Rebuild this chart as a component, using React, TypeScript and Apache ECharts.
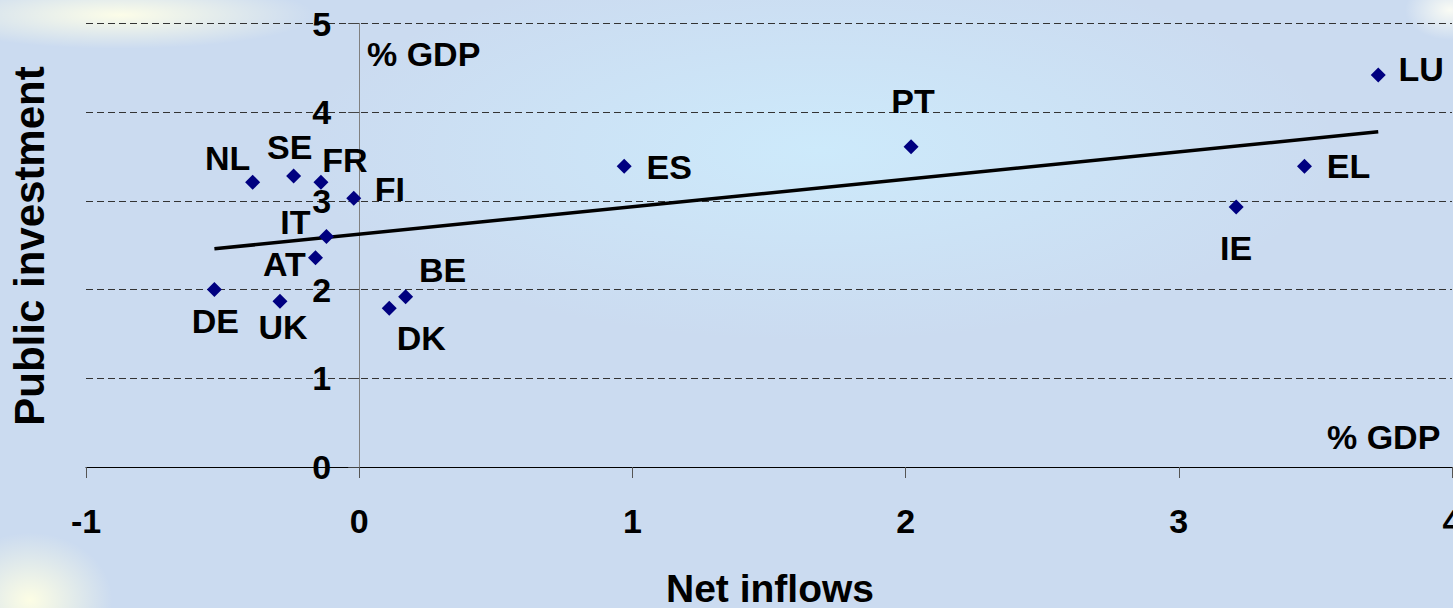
import React, { useEffect, useRef } from "react";
import * as echarts from "echarts";

const countries = ["LU", "EL", "IE", "PT", "ES", "FI", "FR", "SE", "NL", "IT", "AT", "DE", "UK", "BE", "DK"];
const netInflows = [3.73, 3.46, 3.21, 2.02, 0.97, -0.02, -0.14, -0.24, -0.39, -0.12, -0.16, -0.53, -0.29, 0.17, 0.11];
const publicInvestment = [4.42, 3.39, 2.93, 3.61, 3.39, 3.03, 3.21, 3.28, 3.21, 2.6, 2.36, 2.0, 1.87, 1.92, 1.79];
const labelOffsets: [number, number][] = [
  [43, -6], [44, 0], [0, 41], [2, -46], [45, 1], [36, -9], [24, -22], [-4, -29],
  [-25, -24], [-31, -14], [-31, 6], [1, 31], [3, 26], [37, -27], [32, 30],
];
const xTicks = { min: -1, max: 4, interval: 1 };
const yTicks = { min: 0, max: 5, interval: 1 };
const xTitle = "Net inflows";
const yTitle = "Public investment";
const unitLabel = "% GDP";

const FONT = '"Liberation Sans", Arial, sans-serif';
const GRID_LEFT = 86;
const GRID_RIGHT = 1;
const WIDTH = 1453;

function regression(xs: number[], ys: number[]) {
  const n = xs.length;
  const mx = xs.reduce((a, b) => a + b, 0) / n;
  const my = ys.reduce((a, b) => a + b, 0) / n;
  let sxy = 0, sxx = 0;
  for (let i = 0; i < n; i++) {
    sxy += (xs[i] - mx) * (ys[i] - my);
    sxx += (xs[i] - mx) * (xs[i] - mx);
  }
  const b = sxy / sxx;
  const a = my - b * mx;
  const x0 = Math.min(...xs);
  const x1 = Math.max(...xs);
  return [[x0, a + b * x0], [x1, a + b * x1]];
}

export default function App() {
  const ref = useRef<HTMLDivElement>(null);
  useEffect(() => {
    if (!ref.current) return;
    const chart = echarts.init(ref.current, null, { renderer: "svg" });
    const scatterData = countries.map((c, i) => ({
      name: c,
      value: [netInflows[i], publicInvestment[i]],
      label: { offset: labelOffsets[i] },
    }));
    // place the y axis where x = 0
    const plotW = WIDTH - GRID_LEFT - GRID_RIGHT;
    const zeroOffset = ((0 - xTicks.min) / (xTicks.max - xTicks.min)) * plotW;
    chart.setOption({
      animation: false,
      backgroundColor: "transparent",
      grid: { left: GRID_LEFT, right: GRID_RIGHT, top: 23.5, bottom: 141, containLabel: false, outerBoundsMode: "none" },
      xAxis: {
        type: "value",
        min: xTicks.min,
        max: xTicks.max,
        interval: xTicks.interval,
        axisLine: { show: true, lineStyle: { color: "#000", width: 1 } },
        axisTick: { show: true, length: 11, lineStyle: { color: "#555" } },
        axisLabel: { show: true, margin: 37, color: "#000", fontWeight: "bold", fontSize: 34, fontFamily: FONT },
        splitLine: { show: false },
      },
      yAxis: {
        type: "value",
        min: yTicks.min,
        max: yTicks.max,
        interval: yTicks.interval,
        offset: -zeroOffset,
        axisLine: { show: true, onZero: false, lineStyle: { color: "#808080", width: 1 } },
        axisTick: { show: true, length: 11, lineStyle: { color: "#444" } },
        axisLabel: { show: true, margin: 28, color: "#000", fontWeight: "bold", fontSize: 34, fontFamily: FONT },
        splitLine: { show: true, lineStyle: { color: "#333", width: 1, type: [7, 4] } },
      },
      graphic: [
        {
          type: "text",
          x: 367,
          y: 54,
          style: { text: unitLabel, fill: "#000", font: `bold 34px ${FONT}`, align: "left", verticalAlign: "middle" },
        },
        {
          type: "text",
          x: 1327,
          y: 437,
          style: { text: unitLabel, fill: "#000", font: `bold 34px ${FONT}`, align: "left", verticalAlign: "middle" },
        },
        {
          type: "text",
          x: 770,
          y: 588,
          style: { text: xTitle, fill: "#000", font: `bold 39px ${FONT}`, align: "center", verticalAlign: "middle" },
        },
        {
          type: "text",
          x: 29,
          y: 246,
          rotation: Math.PI / 2,
          style: { text: yTitle, fill: "#000", font: `bold 42px ${FONT}`, align: "center", verticalAlign: "middle" },
        },
      ],
      series: [
        {
          type: "line",
          data: regression(netInflows, publicInvestment),
          symbol: "none",
          lineStyle: { color: "#000", width: 3.5 },
          z: 2,
          silent: true,
        },
        {
          type: "scatter",
          data: scatterData,
          symbol: "diamond",
          symbolSize: 15,
          itemStyle: { color: "#000080", opacity: 1 },
          z: 3,
          label: {
            show: true,
            position: "inside",
            formatter: (p: any) => p.name,
            color: "#000",
            opacity: 1,
            fontWeight: "bold",
            fontSize: 34,
            fontFamily: FONT,
            align: "center",
            verticalAlign: "middle",
          },
        },
      ],
    });
    return () => chart.dispose();
  }, []);
  return (
    <div
      style={{
        position: "fixed",
        left: 0,
        top: 0,
        width: 1453,
        height: 608,
        background:
          "radial-gradient(ellipse 260px 45px at 120px 15px, rgba(255,255,232,0.95), rgba(255,255,232,0) 75%)," +
          "radial-gradient(ellipse 110px 90px at 30px 600px, rgba(255,255,228,0.95), rgba(255,255,228,0) 75%)," +
          "radial-gradient(ellipse 60px 40px at 1450px 10px, rgba(255,255,245,0.9), rgba(255,255,245,0) 75%)," +
          "radial-gradient(ellipse 650px 240px at 820px 150px, #cdeafb, rgba(205,234,251,0) 80%)," +
          "#cbdbf0",
      }}
    >
      <div ref={ref} style={{ width: 1453, height: 608 }} />
    </div>
  );
}
